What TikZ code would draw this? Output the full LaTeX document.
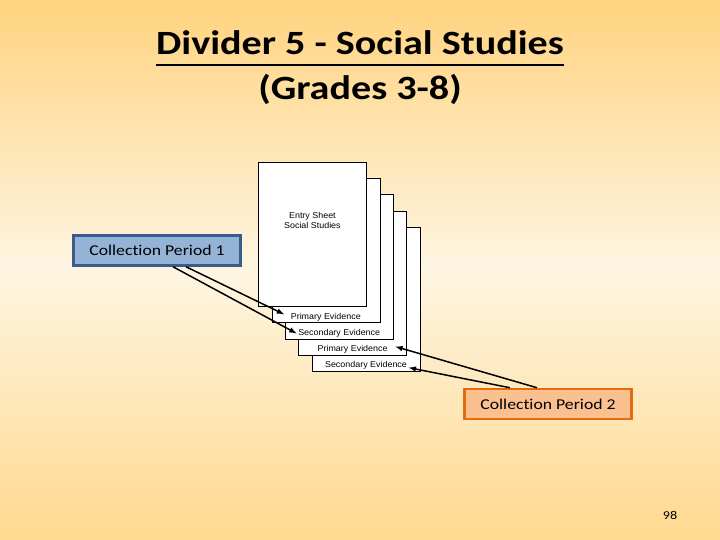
\documentclass[tikz,border=0pt]{standalone}
\usepackage{fontspec}
\setmainfont[FakeStretch=1.18, Ligatures=NoCommon]{Carlito}
\newfontfamily\sheetfont[FakeStretch=1.05]{Liberation Sans}
\usetikzlibrary{calc}
\usetikzlibrary{positioning}
\definecolor{bgtop}{RGB}{255,211,127}
\definecolor{bgmid}{RGB}{254,245,226}
\definecolor{bgbot}{RGB}{255,217,142}
\definecolor{cpblue}{RGB}{149,179,215}
\definecolor{cpblueline}{RGB}{56,93,138}
\definecolor{cporange}{RGB}{250,192,144}
\definecolor{cporangeline}{RGB}{228,108,10}
\tikzstyle{titletext} = [inner sep=0pt, font=\fontsize{34}{40}\selectfont\bfseries]
\tikzstyle{sheetnode} = [draw, fill=white, line width=0.6pt, minimum width=108pt, minimum height=144pt, inner sep=0pt]
\tikzstyle{sheettext} = [inner sep=1.5pt, align=center, font=\sheetfont\fontsize{8.5}{10}\selectfont]
\tikzstyle{periodnode} = [draw, line width=2.5pt, minimum width=167pt, minimum height=30pt, font=\fontsize{15}{18}\selectfont]
\tikzstyle{linkarrow} = [-latex, line width=1.5pt]

\begin{document}
\begin{tikzpicture}[x=1pt, y=-1pt]
  \shade[top color=bgtop, bottom color=bgbot, middle color=bgmid] (0,0) rectangle (720,540);
  \useasboundingbox (0,0) rectangle (720,540);

  \node[titletext, anchor=base] (title1) at (360,55) {Divider 5 - Social Studies};
  \node[titletext, anchor=base] (title2) at (360,100) {(Grades 3-8)};
  \draw[line width=2.5pt] ($(title1.base west)+(0,10)$) -- ($(title1.base east)+(0,10)$);

  \node[sheetnode] (p5) at (366,299) {};
  \node[sheetnode] (p4) at ($(p5)+(-13.4,-16.1)$) {};
  \node[sheetnode] (p3) at ($(p4)+(-13.4,-16.1)$) {};
  \node[sheetnode] (p2) at ($(p3)+(-13.4,-16.1)$) {};
  \node[sheetnode] (p1) at ($(p2)+(-13.4,-16.1)$) {};
  \node[sheettext, below=48pt of p1.north] (entry) {Entry Sheet\\Social Studies};
  \node[sheettext, above=0pt of p2.south] (ev2) {Primary Evidence};
  \node[sheettext, above=0pt of p3.south] (ev3) {Secondary Evidence};
  \node[sheettext, above=0pt of p4.south] (ev4) {Primary Evidence};
  \node[sheettext, above=0pt of p5.south] (ev5) {Secondary Evidence};

  \node[periodnode, fill=cpblue, draw=cpblueline] (cp1) at (157,250.5) {Collection Period 1};
  \node[periodnode, fill=cporange, draw=cporangeline] (cp2) at (548,404) {Collection Period 2};

  \draw[linkarrow] ($(cp1.south)+(29,0)$) -- ($(ev2.west)+(-5,-3)$);
  \draw[linkarrow] ($(cp1.south)+(16,0)$) -- (ev3.west);
  \draw[linkarrow] ($(cp2.north)+(-11,0)$) -- ($(ev4.east)+(6,-3)$);
  \draw[linkarrow] ($(cp2.north)+(-38,0)$) -- ($(ev5.east)+(0,2)$);

  \node[font=\fontsize{12}{14}\selectfont] (pagenum) at (670,515) {98};
\end{tikzpicture}
\end{document}
